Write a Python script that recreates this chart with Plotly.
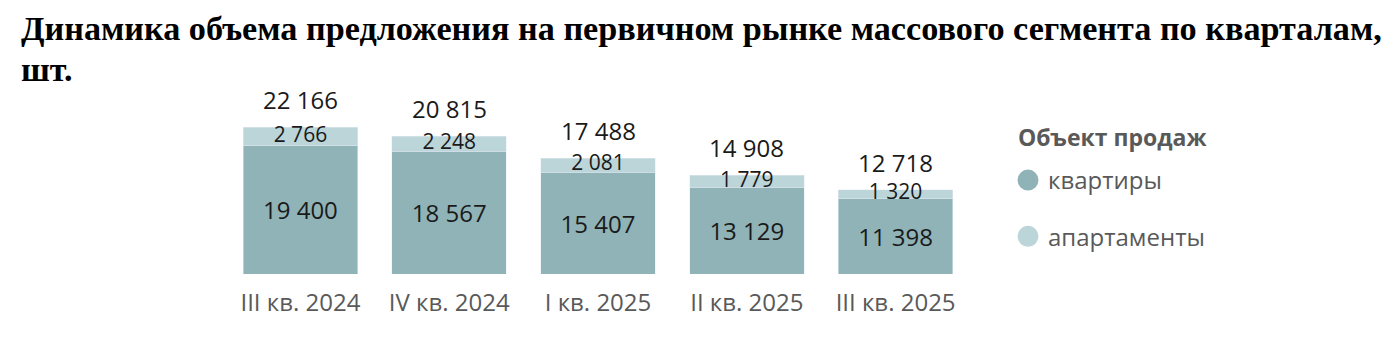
import plotly.graph_objects as go

categories = ["III кв. 2024", "IV кв. 2024", "I кв. 2025", "II кв. 2025", "III кв. 2025"]
kvartiry = [19400, 18567, 15407, 13129, 11398]
apartamenty = [2766, 2248, 2081, 1779, 1320]
totals = [22166, 20815, 17488, 14908, 12718]

title_line1 = "Динамика объема предложения на первичном рынке массового сегмента по кварталам,"
title_line2 = "шт."
legend_title = "Объект продаж"

def fmt(v):
    return f"{v:,}".replace(",", " ")

C_KV = "#8fb3b6"
C_AP = "#bcd5d9"
TXT = "#1a1a1a"
GRAY = "#595959"
NUMFONT = "Open Sans"

L, R, T, B = 226, 430, 102, 80
W, H = 1400, 354
PW, PH = W - L - R, H - T - B

def px_x(x):
    return (x - L) / PW

def px_y(y):
    return (H - B - y) / PH

fig = go.Figure()
fig.add_bar(x=categories, y=kvartiry, marker_color=C_KV, showlegend=False,
            text=[fmt(v) for v in kvartiry], textposition="inside",
            insidetextanchor="middle", textfont=dict(family=NUMFONT, size=24, color=TXT),
            hoverinfo="skip")
fig.add_bar(x=categories, y=apartamenty, marker_color=C_AP, showlegend=False,
            hoverinfo="skip")

mid_ap = [k + a / 2 for k, a in zip(kvartiry, apartamenty)]
fig.add_scatter(x=categories, y=mid_ap, mode="text", text=[fmt(v) for v in apartamenty],
                textposition="middle center", textfont=dict(family=NUMFONT, size=21, color=TXT),
                showlegend=False, hoverinfo="skip")

for c, t in zip(categories, totals):
    fig.add_annotation(x=c, y=t, text=fmt(t), showarrow=False, yanchor="bottom", yshift=9,
                       font=dict(family=NUMFONT, size=24, color=TXT))

# legend entries
fig.add_scatter(x=[None], y=[None], mode="markers", name="квартиры",
                marker=dict(color=C_KV, size=16, symbol="circle", line=dict(color=C_KV, width=5)),
                legendgroup="a")
fig.add_scatter(x=[None], y=[None], mode="markers", name="апартаменты",
                marker=dict(color=C_AP, size=16, symbol="circle", line=dict(color=C_AP, width=5)),
                legendgroup="b")

# title
fig.add_annotation(text="<b>" + title_line1 + "</b>", xref="paper", yref="paper",
                   x=px_x(19), y=px_y(29), xanchor="left", yanchor="middle", showarrow=False,
                   font=dict(family="Liberation Serif", size=34.2, color="black"))
fig.add_annotation(text="<b>" + title_line2 + "</b>", xref="paper", yref="paper",
                   x=px_x(19), y=px_y(69), xanchor="left", yanchor="middle", showarrow=False,
                   font=dict(family="Liberation Serif", size=34.2, color="black"))
# legend title
fig.add_annotation(text="<b>" + legend_title + "</b>", xref="paper", yref="paper",
                   x=px_x(1016), y=px_y(137), xanchor="left", yanchor="middle", showarrow=False,
                   font=dict(family=NUMFONT, size=23, color=GRAY))

fig.update_layout(
    width=W, height=H,
    barmode="stack", bargap=0.23,
    plot_bgcolor="white", paper_bgcolor="white",
    margin=dict(l=L, r=R, t=T, b=B),
    xaxis=dict(showline=False, showgrid=False, ticks="", ticklabelstandoff=12,
               tickfont=dict(family=NUMFONT, size=24, color=GRAY)),
    yaxis=dict(range=[0, 26000], visible=False),
    legend=dict(font=dict(family=NUMFONT, size=24, color=GRAY),
                x=1008/W, xref="container", xanchor="left",
                y=1 - 158/H, yref="container", yanchor="top",
                tracegroupgap=22, traceorder="grouped", itemsizing="trace"),
    showlegend=True,
)

fig.write_html("out.html")
